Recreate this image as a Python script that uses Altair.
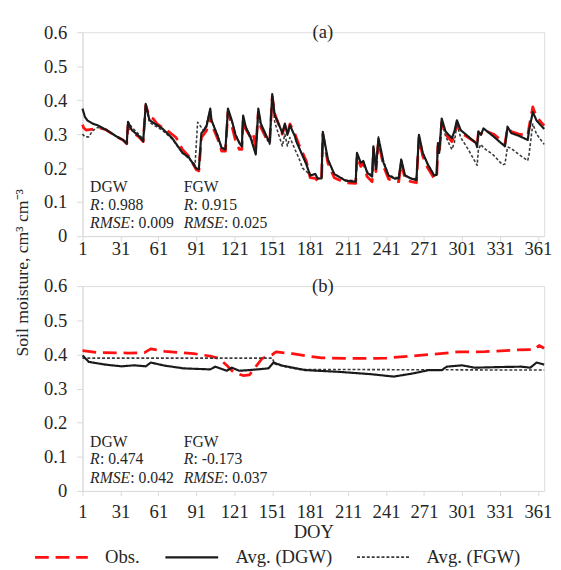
import altair as alt
import pandas as pd

# ---------------- data ----------------
series_names = ["Obs.", "Avg. (DGW)", "Avg. (FGW)"]
x_ticks = [1, 31, 61, 91, 121, 151, 181, 211, 241, 271, 301, 331, 361]
y_ticks = [0, 0.1, 0.2, 0.3, 0.4, 0.5, 0.6]

# panel (a)
dgw_a_days = [1, 3, 5, 9, 13, 20, 28, 33, 36, 37, 40, 46, 49, 51, 54, 58, 64, 72, 80, 85, 91, 93, 95, 97, 99, 102,
              103, 108, 111, 114, 116, 119, 122, 125, 127, 128, 130, 134, 138, 140, 142, 146, 149, 151, 153, 156,
              159, 161, 163, 165, 169, 170, 174, 178, 181, 185, 187, 190, 191, 195, 200, 209, 217, 218, 221, 223,
              226, 230, 231, 233, 235, 239, 243, 248, 251, 253, 256, 261, 265, 267, 270, 274, 279, 281, 282, 283,
              285, 288, 293, 295, 297, 300, 306, 312, 313, 314, 316, 318, 326, 335, 337, 340, 346, 353, 354, 357,
              360, 366]
dgw_a_vals = [0.375, 0.350, 0.340, 0.331, 0.326, 0.312, 0.293, 0.283, 0.272, 0.336, 0.312, 0.293, 0.279, 0.389,
              0.341, 0.331, 0.317, 0.288, 0.245, 0.232, 0.199, 0.197, 0.303, 0.312, 0.322, 0.375, 0.341, 0.293,
              0.259, 0.255, 0.375, 0.341, 0.298, 0.274, 0.264, 0.355, 0.322, 0.288, 0.240, 0.375, 0.331, 0.298,
              0.274, 0.418, 0.355, 0.331, 0.303, 0.331, 0.298, 0.326, 0.293, 0.279, 0.245, 0.211, 0.178, 0.183,
              0.169, 0.170, 0.307, 0.226, 0.183, 0.163, 0.160, 0.245, 0.216, 0.221, 0.187, 0.175, 0.264, 0.197,
              0.288, 0.216, 0.178, 0.169, 0.170, 0.225, 0.178, 0.169, 0.165, 0.298, 0.245, 0.211, 0.178, 0.180,
              0.274, 0.245, 0.346, 0.308, 0.288, 0.308, 0.341, 0.312, 0.293, 0.274, 0.262, 0.308, 0.298, 0.317,
              0.293, 0.264, 0.322, 0.303, 0.295, 0.283, 0.310, 0.365, 0.340, 0.315]

obs_a_days = [1, 2, 4, 10, 14, 20, 28, 33, 36, 37, 40, 46, 49, 51, 54, 57, 60, 64, 70, 75, 80, 85, 91, 93, 95, 97,
              99, 102, 103, 108, 111, 114, 116, 119, 122, 125, 127, 128, 130, 134, 136, 138, 140, 142, 146, 149,
              151, 153, 156, 159, 161, 163, 165, 169, 172, 175, 178, 181, 185, 187, 190, 191, 195, 200, 209, 217,
              218, 221, 223, 226, 230, 231, 233, 235, 239, 243, 248, 251, 253, 256, 261, 265, 267, 270, 274, 279,
              281, 282, 283, 285, 288, 293, 295, 297, 300, 306, 312, 313, 314, 316, 318, 326, 335, 337, 340, 346,
              353, 354, 357, 360, 366]
obs_a_vals = [0.328, 0.318, 0.312, 0.315, 0.320, 0.312, 0.292, 0.283, 0.272, 0.325, 0.308, 0.290, 0.278, 0.385,
              0.350, 0.345, 0.330, 0.320, 0.305, 0.290, 0.255, 0.235, 0.195, 0.192, 0.290, 0.300, 0.310, 0.355,
              0.330, 0.285, 0.250, 0.250, 0.365, 0.325, 0.280, 0.255, 0.255, 0.345, 0.315, 0.290, 0.300, 0.260,
              0.365, 0.320, 0.290, 0.275, 0.410, 0.360, 0.330, 0.300, 0.325, 0.300, 0.330, 0.300, 0.270, 0.245,
              0.220, 0.172, 0.170, 0.162, 0.165, 0.300, 0.215, 0.172, 0.157, 0.155, 0.235, 0.205, 0.215, 0.175,
              0.160, 0.255, 0.190, 0.280, 0.205, 0.168, 0.160, 0.160, 0.215, 0.168, 0.160, 0.157, 0.290, 0.235,
              0.200, 0.170, 0.172, 0.265, 0.240, 0.335, 0.300, 0.278, 0.295, 0.330, 0.305, 0.290, 0.275, 0.268,
              0.305, 0.300, 0.312, 0.300, 0.272, 0.318, 0.308, 0.300, 0.295, 0.320, 0.380, 0.350, 0.325]

fgw_a_days = [1, 3, 6, 9, 13, 20, 28, 33, 36, 37, 40, 46, 49, 51, 54, 58, 64, 72, 80, 85, 90, 92, 95, 97, 99, 102,
              103, 108, 111, 114, 116, 119, 122, 125, 127, 128, 130, 134, 138, 140, 142, 146, 149, 151, 153, 156,
              159, 161, 163, 165, 169, 172, 175, 178, 181, 185, 187, 190, 191, 195, 200, 209, 217, 218, 221, 223,
              226, 230, 231, 233, 235, 239, 243, 248, 251, 253, 256, 261, 265, 267, 270, 274, 279, 281, 282, 283,
              285, 288, 291, 293, 295, 297, 300, 306, 312, 313, 314, 316, 318, 326, 333, 335, 337, 340, 346, 353,
              354, 357, 360, 366]
fgw_a_vals = [0.300, 0.292, 0.292, 0.310, 0.320, 0.312, 0.293, 0.283, 0.275, 0.336, 0.320, 0.298, 0.285, 0.380,
              0.335, 0.325, 0.312, 0.285, 0.245, 0.228, 0.210, 0.335, 0.320, 0.310, 0.330, 0.372, 0.340, 0.295,
              0.260, 0.258, 0.370, 0.340, 0.300, 0.275, 0.268, 0.350, 0.320, 0.295, 0.245, 0.365, 0.325, 0.290,
              0.270, 0.405, 0.335, 0.300, 0.265, 0.300, 0.265, 0.290, 0.255, 0.230, 0.200, 0.190, 0.180, 0.183,
              0.170, 0.170, 0.300, 0.226, 0.183, 0.165, 0.163, 0.240, 0.216, 0.221, 0.190, 0.178, 0.264, 0.200,
              0.292, 0.220, 0.180, 0.172, 0.172, 0.228, 0.180, 0.170, 0.168, 0.295, 0.245, 0.211, 0.180, 0.182,
              0.270, 0.245, 0.335, 0.295, 0.270, 0.255, 0.275, 0.330, 0.290, 0.255, 0.215, 0.208, 0.255, 0.270,
              0.260, 0.238, 0.210, 0.212, 0.262, 0.258, 0.240, 0.222, 0.240, 0.330, 0.300, 0.270]

# panel (b)
obs_b_days = [1, 14, 37, 50, 55, 66, 89, 102, 109, 115, 120, 128, 133, 138, 143, 151, 154, 167, 179, 190, 216, 241,
              267, 298, 319, 345, 358, 362, 366]
obs_b_vals = [0.411, 0.405, 0.404, 0.405, 0.416, 0.409, 0.402, 0.395, 0.388, 0.368, 0.349, 0.338, 0.340, 0.364,
              0.388, 0.399, 0.407, 0.402, 0.395, 0.390, 0.388, 0.389, 0.397, 0.407, 0.408, 0.413, 0.414, 0.426,
              0.418]
dgw_b_days = [1, 6, 19, 32, 42, 51, 55, 66, 81, 102, 106, 115, 119, 125, 133, 148, 152, 159, 177, 203, 229, 247,
              262, 275, 285, 289, 301, 311, 332, 348, 355, 360, 366]
dgw_b_vals = [0.397, 0.378, 0.370, 0.365, 0.368, 0.365, 0.376, 0.367, 0.359, 0.356, 0.364, 0.352, 0.361, 0.352,
              0.354, 0.359, 0.376, 0.367, 0.354, 0.349, 0.342, 0.335, 0.344, 0.354, 0.354, 0.364, 0.368, 0.361,
              0.363, 0.364, 0.361, 0.376, 0.370]
fgw_b_days = [1, 151, 153, 160, 172, 366]
fgw_b_vals = [0.389, 0.389, 0.372, 0.365, 0.356, 0.354]

# statistics annotations
stats_a = {"DGW": ("0.988", "0.009"), "FGW": ("0.915", "0.025")}
stats_b = {"DGW": ("0.474", "0.042"), "FGW": ("-0.173", "0.037")}
panel_labels = ["(a)", "(b)"]

# ---------------- styling ----------------
FONT = "Liberation Serif, Times New Roman, serif"
TXT = "#262626"
AX = "#d9d9d9"


def lines_df(obs, dgw, fgw):
    rows = []
    # draw order: Obs first, then FGW, then DGW on top
    for name, (d, v) in [("Obs.", obs), ("Avg. (FGW)", fgw), ("Avg. (DGW)", dgw)]:
        for di, vi in zip(d, v):
            rows.append({"day": di, "sm": vi, "series": name})
    return pd.DataFrame(rows)


def panel(df, stats, label, first):
    xaxis = alt.Axis(values=x_ticks, grid=False, domainColor=AX, tickColor=AX, tickSize=5,
                     labelFont=FONT, labelFontSize=19, labelColor=TXT,
                     labelPadding=-1 if first else 7, labelOverlap=False, labelBound=False,
                     labelFlush=False, title=None if first else "DOY",
                     titleFont=FONT, titleFontSize=19, titleFontWeight="normal", titleColor=TXT,
                     titlePadding=1)
    if first:
        yaxis = alt.Axis(values=y_ticks, format="~g", grid=False, domainColor=AX, tickColor=AX, tickSize=6,
                         labelFont=FONT, labelFontSize=19, labelColor=TXT, labelPadding=10,
                         labelOverlap=False,
                         title="Soil moisture, cm³ cm⁻³", titleFont=FONT, titleFontSize=18,
                         titleFontWeight="normal", titleColor=TXT, titleX=-56, titleY=245,
                         titleAngle=270, titleBaseline="alphabetic", titleAlign="center")
    else:
        yaxis = alt.Axis(values=y_ticks, format="~g", grid=False, domainColor=AX, tickColor=AX, tickSize=6,
                         labelFont=FONT, labelFontSize=19, labelColor=TXT, labelPadding=10,
                         labelOverlap=False, title=None)

    xs = alt.Scale(domain=[1, 366], nice=False, zero=False)
    ys = alt.Scale(domain=[0, 0.6], nice=False)

    leg = alt.Legend(title=None, orient="none", legendX=-50, legendY=507, direction="horizontal",
                     symbolType="stroke", symbolSize=2900, labelFont=FONT, labelFontSize=19,
                     labelColor=TXT, labelOffset=16, columnPadding=21)

    X = alt.X("day:Q", scale=xs, axis=xaxis)
    Y = alt.Y("sm:Q", scale=ys, axis=yaxis)

    lines = alt.Chart(df).mark_line(strokeCap="butt", strokeJoin="round").encode(
        x=X, y=Y,
        color=alt.Color("series:N", scale=alt.Scale(domain=series_names,
                                                    range=["#ff1111", "#1a1a1a", "#3a3a3a"]), legend=leg),
        strokeDash=alt.StrokeDash("series:N", scale=alt.Scale(domain=series_names,
                                                              range=[[14, 7], [1, 0], [3, 2]]), legend=leg),
        strokeWidth=alt.StrokeWidth("series:N", scale=alt.Scale(domain=series_names,
                                                                range=[2.8, 1.6, 1.5]), legend=leg),
    )

    ann = pd.DataFrame([
        {"day": 7, "sm": 0.144, "t": "DGW"},
        {"day": 81, "sm": 0.144, "t": "FGW"},
    ])
    ital = pd.DataFrame([
        {"day": 7, "sm": 0.092, "t": "R"}, {"day": 81, "sm": 0.092, "t": "R"},
        {"day": 7, "sm": 0.037, "t": "RMSE"}, {"day": 81, "sm": 0.037, "t": "RMSE"},
    ])
    rvals = pd.DataFrame([
        {"day": 7, "sm": 0.092, "t": ": " + stats["DGW"][0]},
        {"day": 81, "sm": 0.092, "t": ": " + stats["FGW"][0]},
    ])
    rmsevals = pd.DataFrame([
        {"day": 7, "sm": 0.037, "t": ": " + stats["DGW"][1]},
        {"day": 81, "sm": 0.037, "t": ": " + stats["FGW"][1]},
    ])
    ttl = pd.DataFrame([{"day": 191, "sm": 0.6, "t": label}])

    def txt(d, style="normal", dx=0, align="left"):
        return alt.Chart(d).mark_text(font=FONT, fontSize=16, fontStyle=style, color=TXT,
                                      align=align, baseline="middle", dx=dx).encode(
            x=X, y=Y, text="t:N")

    title_layer = alt.Chart(ttl).mark_text(font=FONT, fontSize=19, color=TXT, align="center",
                                           baseline="middle").encode(x=X, y=Y, text="t:N")

    return alt.layer(lines, txt(ann), txt(ital, "italic"), txt(rvals, dx=10), txt(rmsevals, dx=41),
                     title_layer)


pa = panel(lines_df((obs_a_days, obs_a_vals), (dgw_a_days, dgw_a_vals), (fgw_a_days, fgw_a_vals)),
           stats_a, panel_labels[0], True).properties(width=471, height=208)
pb = panel(lines_df((obs_b_days, obs_b_vals), (dgw_b_days, dgw_b_vals), (fgw_b_days, fgw_b_vals)),
           stats_b, panel_labels[1], False).properties(width=471, height=209)

chart = alt.vconcat(pa, pb, spacing=51, bounds="flush").resolve_scale(
    color="shared", strokeDash="shared", strokeWidth="shared"
).properties(
    padding={"left": 5, "top": 9, "right": 0, "bottom": 0}
).configure_view(stroke=None).configure_axis(labelOverlap=False).configure(background="white")

chart.save("out.html", embed_options={"renderer": "svg", "actions": False})
